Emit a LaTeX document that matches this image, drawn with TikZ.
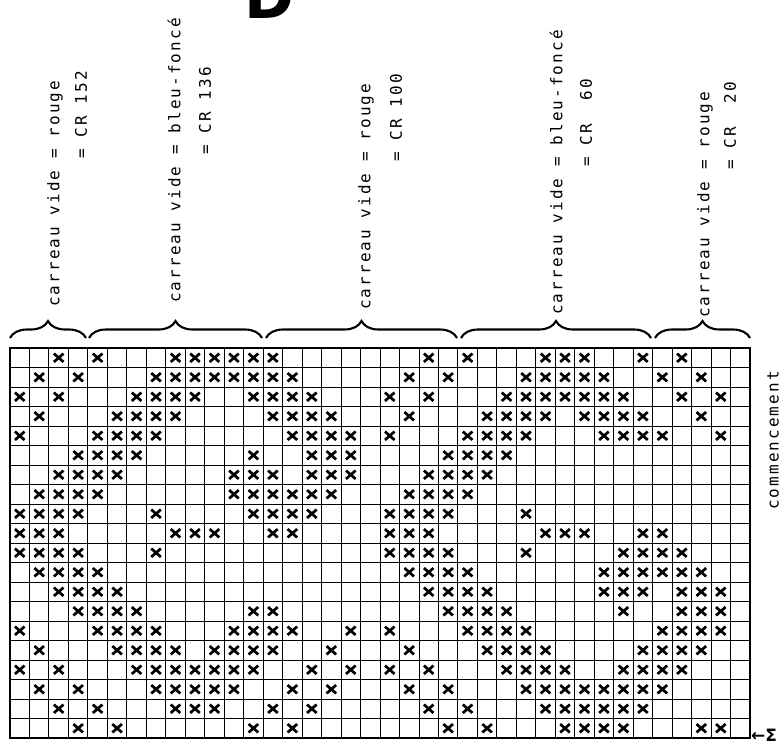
\documentclass[tikz,border=0pt]{standalone}
\usepackage{fontspec}
\newfontfamily\dotfam[LetterSpace=13]{DejaVu Sans Mono}
\newfontfamily\symfam{DejaVu Sans}
\usetikzlibrary{decorations.pathreplacing}
\begin{document}
\begin{tikzpicture}[x=1pt,y=-1pt,
  gridline/.style={line width=0.9pt},
  border/.style={line width=1.5pt},
  xmark/.style={line width=2.7pt},
  brc/.style={decorate, decoration={brace, amplitude=17pt, aspect=0.5}, line width=2.1pt},
  lab/.style={rotate=90, anchor=west, inner sep=0pt, font=\dotfam\fontsize{16}{16}\selectfont}]
\useasboundingbox (0,0) rectangle (782,745);
\clip (0,0) rectangle (782,745);
% big letter at top, cut off
\node[anchor=base west, inner sep=0pt, font=\symfam\bfseries\fontsize{60}{60}\selectfont] (bigD) at (244,18) {D};
% grid
\foreach \i in {0,...,38} \draw[gridline] ({10+\i*19.47368},348) -- ({10+\i*19.47368},738);
\foreach \j in {0,...,20} \draw[gridline] (10,{348+\j*19.5}) -- (750,{348+\j*19.5});
\draw[border] (10,348) rectangle (750,738);
% crosses
\foreach \r/\cols in {
 0/{2,4,8,9,10,11,12,13,21,23,27,28,29,32,34},
 1/{1,3,7,8,9,10,11,12,13,14,20,22,26,27,28,29,30,33,35},
 2/{0,2,6,7,8,9,12,13,14,15,19,21,25,26,27,28,29,30,31,34,36},
 3/{1,5,6,7,8,13,14,15,16,20,24,25,26,27,29,30,31,32,35},
 4/{0,4,5,6,7,14,15,16,17,19,23,24,25,26,30,31,32,33,36},
 5/{3,4,5,6,12,15,16,17,22,23,24,25},
 6/{2,3,4,5,11,12,13,15,16,17,21,22,23,24},
 7/{1,2,3,4,11,12,13,14,15,16,20,21,22,23},
 8/{0,1,2,3,7,12,13,14,15,19,20,21,22,26},
 9/{0,1,2,8,9,10,13,14,19,20,21,27,28,29,32,33},
 10/{0,1,2,3,7,19,20,21,22,26,31,32,33,34},
 11/{1,2,3,4,20,21,22,23,30,31,32,33,34,35},
 12/{2,3,4,5,21,22,23,24,30,31,32,34,35,36},
 13/{3,4,5,6,12,13,22,23,24,25,31,34,35,36},
 14/{0,4,5,6,7,11,12,13,14,17,19,23,24,25,26,33,34,35,36},
 15/{1,5,6,7,8,10,11,12,13,16,20,24,25,26,27,32,33,34,35},
 16/{0,2,6,7,8,9,10,11,12,15,17,19,21,25,26,27,28,31,32,33,34},
 17/{1,3,7,8,9,10,11,14,16,20,22,26,27,28,29,30,31,32,33},
 18/{2,4,8,9,10,13,15,21,23,27,28,29,30,31,32},
 19/{3,5,12,14,22,24,28,29,30,31,35,36}}{
  \foreach \c in \cols {
    \pgfmathsetmacro\cx{10+(\c+0.5)*19.47368}
    \pgfmathsetmacro\cy{348+(\r+0.5)*19.5}
    \draw[xmark] (\cx-4.8,\cy-4.2) -- (\cx+4.8,\cy+4.2) (\cx-4.8,\cy+4.2) -- (\cx+4.8,\cy-4.2);
  }
}
% braces
\draw[brc] (10,338) -- (86,338);
\draw[brc] (89,338) -- (262,338);
\draw[brc] (266,338) -- (457,338);
\draw[brc] (461,338) -- (651,338);
\draw[brc] (655,338) -- (750,338);
% labels
\node[lab] (l1a) at (55,307) {carreau vide = rouge};
\node[lab] (l1b) at (81,307) {\hphantom{carreau vide }= CR 152};
\node[lab] (l2a) at (174,303) {carreau vide = bleu-foncé};
\node[lab] (l2b) at (205,303) {\hphantom{carreau vide }= CR 136};
\node[lab] (l3a) at (366,310) {carreau vide = rouge};
\node[lab] (l3b) at (396,310) {\hphantom{carreau vide }= CR 100};
\node[lab] (l4a) at (556,315) {carreau vide = bleu-foncé};
\node[lab] (l4b) at (586,315) {\hphantom{carreau vide }= CR~~60};
\node[lab] (l5a) at (705,318) {carreau vide = rouge};
\node[lab] (l5b) at (730,318) {\hphantom{carreau vide }= CR~~20};
\node[lab] (comm) at (773,510) {commencement};
\node[inner sep=0pt, font=\symfam\bfseries\fontsize{17}{17}\selectfont] (start) at (764,735) {←Σ};
\end{tikzpicture}
\end{document}
